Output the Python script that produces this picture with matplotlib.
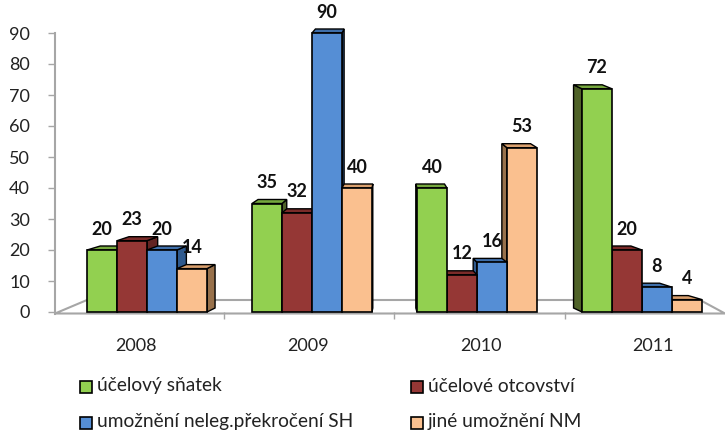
import matplotlib; matplotlib.use('Agg')
import matplotlib.pyplot as plt
from matplotlib.patches import Polygon, Rectangle

years = ['2008', '2009', '2010', '2011']
series = ['účelový sňatek', 'účelové otcovství',
          'umožnění neleg.překročení SH', 'jiné umožnění NM']
ucelovy_snatek = [20, 35, 40, 72]
ucelove_otcovstvi = [23, 32, 12, 20]
umozneni_sh = [20, 90, 16, 8]
jine_nm = [14, 40, 53, 4]
values = [ucelovy_snatek, ucelove_otcovstvi, umozneni_sh, jine_nm]

FRONT = ['#92D050', '#953735', '#558ED5', '#FAC08F']
SIDE = ['#4F6228', '#632423', '#2F5A8E', '#98714B']
TOP = ['#76A83E', '#7A2B29', '#3F6FAA', '#D9A06E']

plt.rcParams['font.family'] = ['Lato', 'DejaVu Sans']

W, H = 725, 432
fig = plt.figure(figsize=(W / 100, H / 100), dpi=100)
px0, px1 = 55, 725
py0, py90 = 312, 33
ax = fig.add_axes([px0 / W, (H - py0) / H, (px1 - px0) / W, (py0 - py90) / H])
gc0, gstep = 147, 165          # pixel x of first group centre, spacing
ax.set_xlim((px0 - gc0) / gstep, (px1 - gc0) / gstep)
ax.set_ylim(0, 90)
ypx = (py0 - py90) / 90

bw = 30 / gstep
cx = (390 - gc0) / gstep       # perspective centre
k = 0.044
dy = 4 / ypx

bars = []
for s in range(4):
    for g in range(4):
        bars.append((g + (s - 2) * bw, values[s][g], s))
bars.sort(key=lambda b: -abs(b[0] + bw / 2 - cx))

for xl, h, s in bars:
    xr = xl + bw
    dxl = k * (cx - xl)
    dxr = k * (cx - xr)
    if xl + bw / 2 < cx:
        side = [(xr, 0), (xr + dxr, dy), (xr + dxr, h + dy), (xr, h)]
    else:
        side = [(xl, 0), (xl + dxl, dy), (xl + dxl, h + dy), (xl, h)]
    top = [(xl, h), (xl + dxl, h + dy), (xr + dxr, h + dy), (xr, h)]
    ax.add_patch(Polygon(side, closed=True, fc=SIDE[s], ec='black', lw=1, clip_on=False, zorder=3))
    ax.add_patch(Polygon(top, closed=True, fc=TOP[s], ec='black', lw=1, clip_on=False, zorder=3))
    ax.add_patch(Rectangle((xl, 0), bw, h, fc=FRONT[s], ec='black', lw=1.2, clip_on=False, zorder=3))
    ax.annotate(str(h), (xl + bw / 2, h), xytext=(0, 15), textcoords='offset points',
                ha='center', va='center', fontsize=13, fontweight='bold', color='#111111',
                zorder=5, annotation_clip=False)

# floor
def to_data(px, py):
    return ((px - gc0) / gstep, (py0 - py) / ypx)
floor = [to_data(55, 313.5), to_data(87, 300), to_data(700, 300), to_data(725, 313.5)]
ax.add_patch(Polygon(floor, closed=True, fill=False, ec='#A6A6A6', lw=1.5, clip_on=False, zorder=1))

for sp in ['top', 'right', 'bottom']:
    ax.spines[sp].set_visible(False)
ax.spines['left'].set_color('#A6A6A6')
ax.spines['left'].set_linewidth(1.5)
ax.spines['left'].set_bounds(-0.5, 90)

ax.set_yticks(range(0, 91, 10))
ax.tick_params(axis='y', length=5, width=1, color='#A6A6A6', pad=13, labelsize=13, labelcolor='#222222')
ax.set_xticks([g + 0.045 * (g - cx) for g in range(4)])
ax.set_xticklabels(years)
ax.set_xticks([(224 - gc0) / gstep, (394 - gc0) / gstep, (565 - gc0) / gstep], minor=True)
ax.tick_params(axis='x', which='major', length=0, pad=19, labelsize=13, labelcolor='#222222')
ax.tick_params(axis='x', which='minor', length=5, width=1, color='#A6A6A6')

# legend (two columns, row-wise order as in the original)
leg_pos = [(80, 386), (411, 386), (80, 422), (411, 422)]
for i, (lx, ly) in enumerate(leg_pos):
    fig.add_artist(Rectangle((lx / W, (H - ly - 6.5) / H), 12 / W, 12 / H,
                             fc=FRONT[i], ec='black', lw=1.2, transform=fig.transFigure))
    fig.text((lx + 17) / W, (H - ly) / H, series[i], fontsize=13.8, color='#222222',
             ha='left', va='center')

fig.savefig('out.png', dpi=100)
